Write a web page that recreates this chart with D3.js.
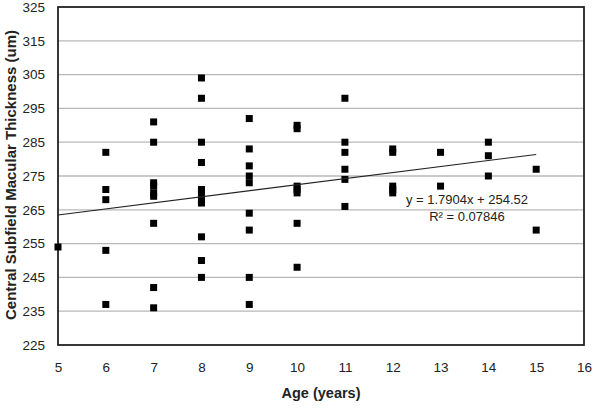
<!DOCTYPE html>
<html><head><meta charset="utf-8">
<script src="https://cdn.jsdelivr.net/npm/d3@7"></script>
<style>body{margin:0;background:#fff}svg{display:block}text{font-family:"Liberation Sans",Arial,sans-serif}</style>
</head><body><svg id="c" width="600" height="408"></svg>
<script>
const ages = [
  5,
  6,6,6,6,6,
  7,7,7,7,7,7,7,7,7,
  8,8,8,8,8,8,8,8,8,8,8,
  9,9,9,9,9,9,9,9,9,
  10,10,10,10,10,10,10,
  11,11,11,11,11,11,
  12,12,12,12,12,
  13,13,
  14,14,14,
  15,15];
const thickness = [
  254,
  282,271,268,253,237,
  291,285,273,272,270,269,261,242,236,
  304,298,285,279,271,270,268,267,257,250,245,
  292,283,278,275,273,264,259,245,237,
  290,289,272,271,270,261,248,
  298,285,282,277,274,266,
  283,282,272,271,270,
  282,272,
  285,281,275,
  277,259];
const xTicks = [5,6,7,8,9,10,11,12,13,14,15,16];
const yTicks = [225,235,245,255,265,275,285,295,305,315,325];
const slope = 1.7904, intercept = 254.52;
const eqLabel = "y = 1.7904x + 254.52";
const r2Label = "R² = 0.07846";
const xTitle = "Age (years)";
const yTitle = "Central Subfield Macular Thickness (um)";

const L=58,R=584,T=7,B=345;
const svg=d3.select("#c");
const x=d3.scaleLinear().domain([5,16]).range([L,R]);
const y=d3.scaleLinear().domain([225,325]).range([B,T]);

svg.append("g").selectAll("line").data(yTicks.slice(1,-1)).join("line")
 .attr("x1",L).attr("x2",R).attr("y1",d=>y(d)).attr("y2",d=>y(d))
 .attr("stroke","#b8b8b8").attr("stroke-width",1.3);

svg.append("rect").attr("x",L).attr("y",T).attr("width",R-L).attr("height",B-T)
 .attr("fill","none").attr("stroke","#222").attr("stroke-width",1.8);

const xa=svg.append("g").attr("transform",`translate(0,${B})`)
 .call(d3.axisBottom(x).tickValues(xTicks).tickSize(0).tickPadding(17).tickFormat(d3.format("d")));
xa.select(".domain").remove();
xa.selectAll("text").attr("font-size",13.5).attr("fill","#222").style("font-family","Liberation Sans, Arial, sans-serif");
const ya=svg.append("g").attr("transform",`translate(${L},0)`)
 .call(d3.axisLeft(y).tickValues(yTicks).tickSize(0).tickPadding(13).tickFormat(d3.format("d")));
ya.select(".domain").remove();
ya.selectAll("text").attr("font-size",13.5).attr("fill","#222").style("font-family","Liberation Sans, Arial, sans-serif");

const pts = ages.map((a,i)=>({a,t:thickness[i]}));
svg.append("g").selectAll("rect").data(pts).join("rect")
 .attr("x",d=>x(d.a)-3.5).attr("y",d=>y(d.t)-3.5).attr("width",7).attr("height",7).attr("fill","#000");

svg.append("line").attr("x1",x(5)).attr("x2",x(15))
 .attr("y1",y(slope*5+intercept)).attr("y2",y(slope*15+intercept))
 .attr("stroke","#222").attr("stroke-width",1.1);

svg.append("text").attr("x",467).attr("y",204).attr("text-anchor","middle").attr("font-size",13).attr("fill","#222").text(eqLabel);
svg.append("text").attr("x",467).attr("y",221).attr("text-anchor","middle").attr("font-size",13).attr("fill","#222").text(r2Label);

svg.append("text").attr("x",(L+R)/2).attr("y",398).attr("text-anchor","middle").attr("font-size",14.5).attr("font-weight","bold").attr("fill","#222").text(xTitle);
svg.append("text").attr("transform",`translate(16,175) rotate(-90)`).attr("text-anchor","middle").attr("font-size",15).attr("font-weight","bold").attr("fill","#222").text(yTitle);
</script></body></html>
